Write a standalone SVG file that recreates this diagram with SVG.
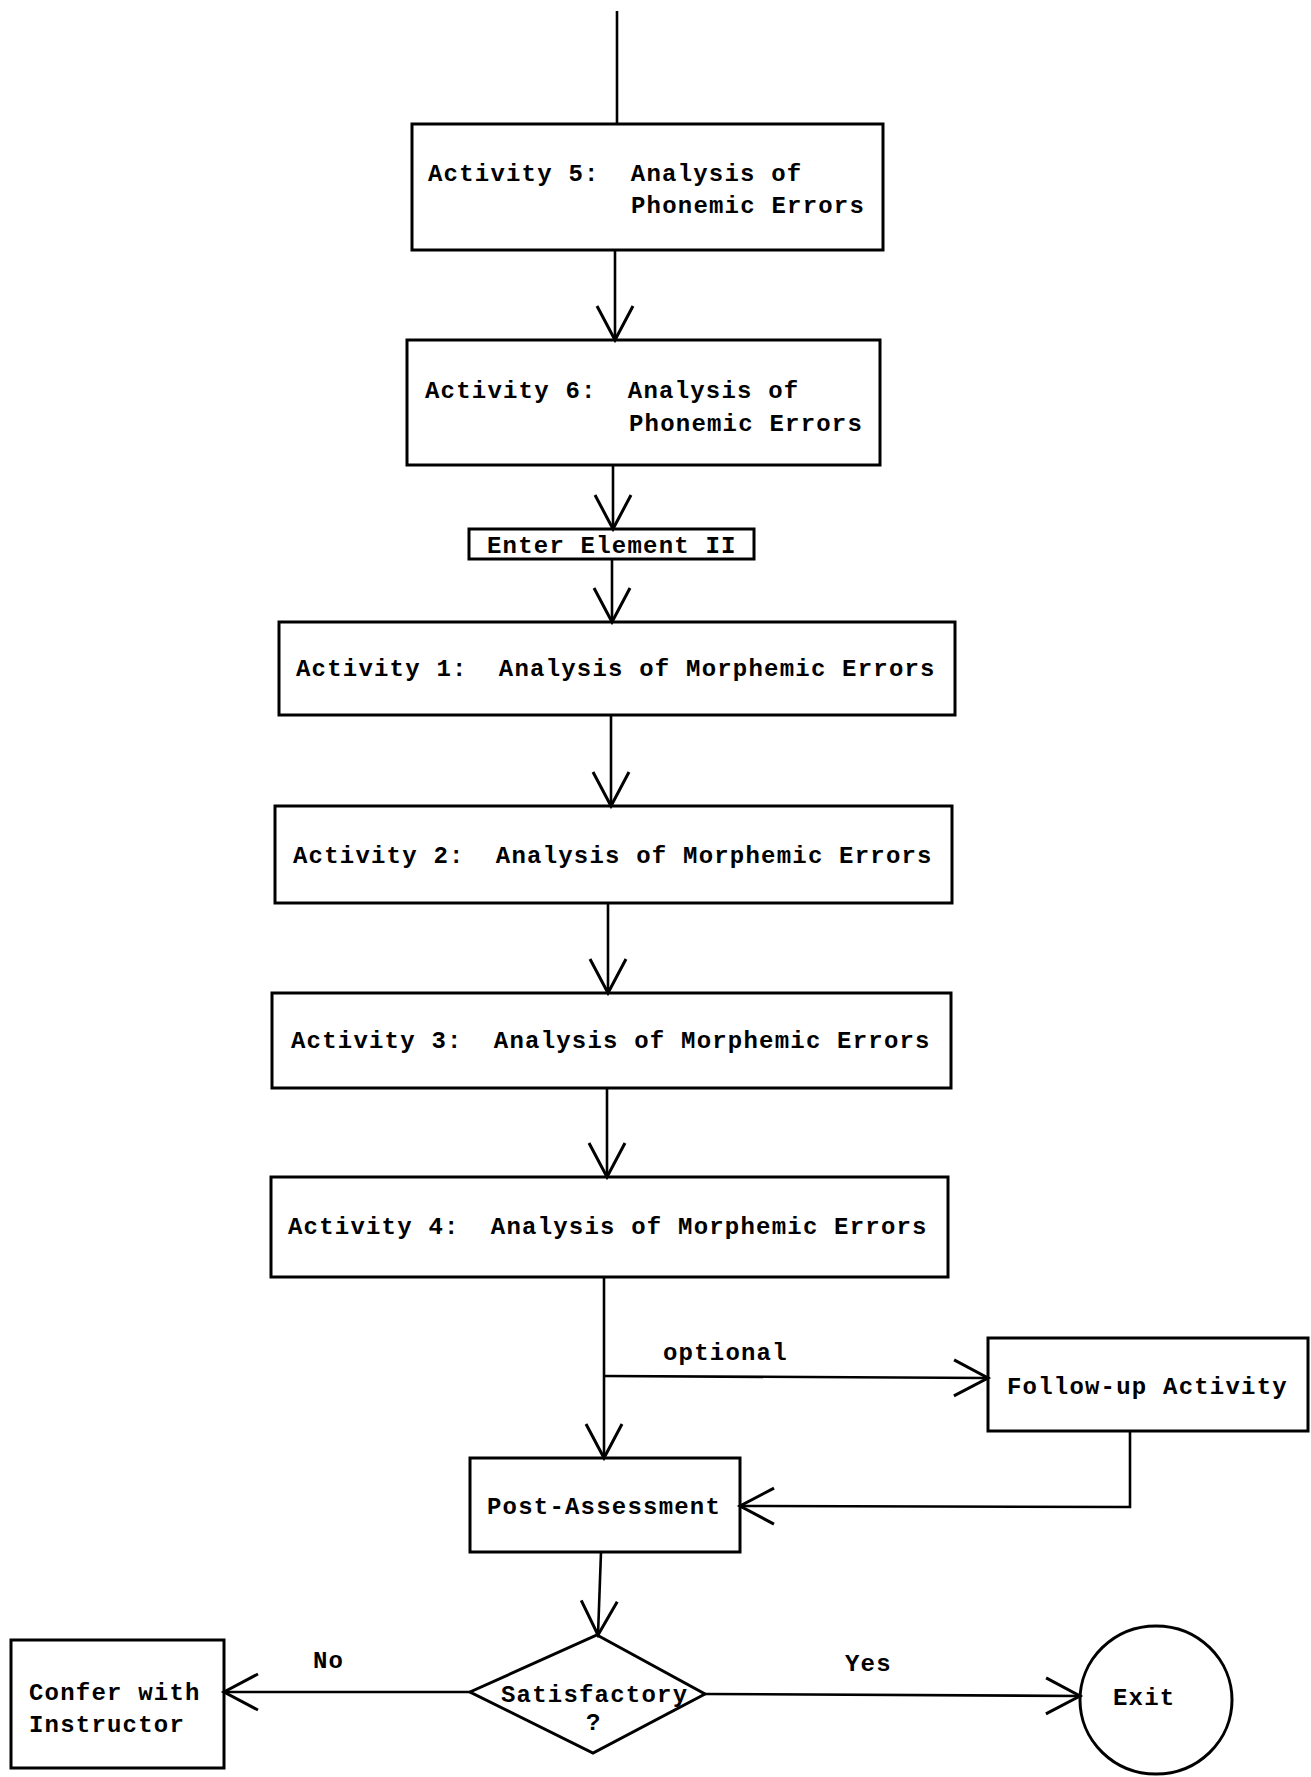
<svg xmlns="http://www.w3.org/2000/svg" width="1311" height="1777" viewBox="0 0 1311 1777">
<style>
.box{fill:none;stroke:#000;stroke-width:3}
.ln{fill:none;stroke:#000;stroke-width:2.6}
text{font-family:"Liberation Mono","DejaVu Sans Mono",monospace;font-weight:bold;font-size:24px;letter-spacing:1.2px;fill:#000;white-space:pre}
</style>
<defs>
<marker id="ah" viewBox="-40 -22 44 44" refX="0" refY="0" markerWidth="44" markerHeight="44" markerUnits="userSpaceOnUse" orient="auto">
<path d="M-34,-18 L0,0 L-34,18" fill="none" stroke="#000" stroke-width="3"/>
</marker>
</defs>
<rect width="1311" height="1777" fill="#fff"/>
<g id="connectors">
<line class="ln" x1="617" y1="11" x2="617" y2="124"/>
<line class="ln" x1="615" y1="250" x2="615" y2="340" marker-end="url(#ah)"/>
<line class="ln" x1="613" y1="465" x2="613" y2="529" marker-end="url(#ah)"/>
<line class="ln" x1="612" y1="559" x2="612" y2="622" marker-end="url(#ah)"/>
<line class="ln" x1="611" y1="715" x2="611" y2="806" marker-end="url(#ah)"/>
<line class="ln" x1="608" y1="903" x2="608" y2="993" marker-end="url(#ah)"/>
<line class="ln" x1="607" y1="1088" x2="607" y2="1177" marker-end="url(#ah)"/>
<line class="ln" x1="604" y1="1277" x2="604" y2="1458" marker-end="url(#ah)"/>
<line class="ln" x1="604" y1="1376" x2="988" y2="1378" marker-end="url(#ah)"/>
<polyline class="ln" points="1130,1431 1130,1507 740,1506" marker-end="url(#ah)"/>
<line class="ln" x1="601" y1="1552" x2="598" y2="1635" marker-end="url(#ah)"/>
<line class="ln" x1="470" y1="1692" x2="224" y2="1692" marker-end="url(#ah)"/>
<line class="ln" x1="705" y1="1694" x2="1080" y2="1696" marker-end="url(#ah)"/>
<text x="663" y="1360">optional</text>
<text x="313" y="1668">No</text>
<text x="845" y="1671">Yes</text>
</g>
<g id="act5">
<rect class="box" x="412" y="124" width="471" height="126"/>
<text x="428" y="181">Activity 5:  Analysis of</text>
<text x="631" y="213">Phonemic Errors</text>
</g>
<g id="act6">
<rect class="box" x="407" y="340" width="473" height="125"/>
<text x="425" y="398">Activity 6:  Analysis of</text>
<text x="629" y="431">Phonemic Errors</text>
</g>
<g id="enter2">
<rect class="box" x="469" y="529" width="285" height="30"/>
<text x="487" y="553">Enter Element II</text>
</g>
<g id="act1">
<rect class="box" x="279" y="622" width="676" height="93"/>
<text x="296" y="676">Activity 1:  Analysis of Morphemic Errors</text>
</g>
<g id="act2">
<rect class="box" x="275" y="806" width="677" height="97"/>
<text x="293" y="863">Activity 2:  Analysis of Morphemic Errors</text>
</g>
<g id="act3">
<rect class="box" x="272" y="993" width="679" height="95"/>
<text x="291" y="1048">Activity 3:  Analysis of Morphemic Errors</text>
</g>
<g id="act4">
<rect class="box" x="271" y="1177" width="677" height="100"/>
<text x="288" y="1234">Activity 4:  Analysis of Morphemic Errors</text>
</g>
<g id="followup">
<rect class="box" x="988" y="1338" width="320" height="93"/>
<text x="1007" y="1394">Follow-up Activity</text>
</g>
<g id="postassess">
<rect class="box" x="470" y="1458" width="270" height="94"/>
<text x="487" y="1514">Post-Assessment</text>
</g>
<g id="satisfactory">
<polygon class="box" points="597,1635 705,1694 593,1753 470,1692"/>
<text x="501" y="1702">Satisfactory</text>
<text x="586" y="1730">?</text>
</g>
<g id="confer">
<rect class="box" x="11" y="1640" width="213" height="128"/>
<text x="29" y="1700">Confer with</text>
<text x="29" y="1732">Instructor</text>
</g>
<g id="exit">
<ellipse class="box" cx="1156" cy="1700" rx="76" ry="74"/>
<text x="1113" y="1705">Exit</text>
</g>
</svg>
